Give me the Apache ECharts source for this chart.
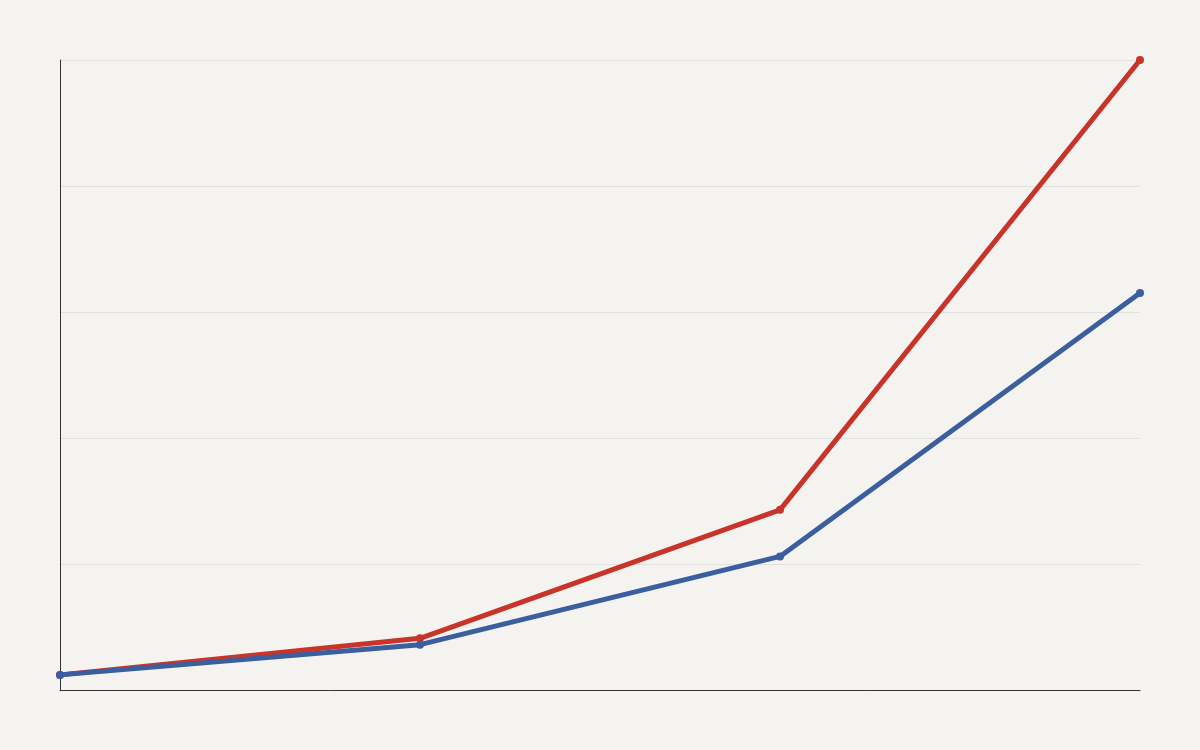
<!DOCTYPE html>
<html><head><meta charset="utf-8">
<script src="https://cdn.jsdelivr.net/npm/echarts@6/dist/echarts.min.js"></script>
<style>html,body{margin:0;padding:0;background:#f4f3f0}#c{width:1200px;height:750px}</style>
</head><body><div id="c"></div>
<script>
const categories = ['A', 'B', 'C', 'D'];
const redValues = [0.12, 0.41, 1.43, 5.0];
const blueValues = [0.12, 0.36, 1.06, 3.15];
const chart = echarts.init(document.getElementById('c'));
chart.setOption({
  backgroundColor: '#f4f3f0',
  animation: false,
  grid: {left: 60, right: 60, top: 60, bottom: 60},
  xAxis: {type: 'category', data: categories, boundaryGap: false,
    axisLine: {lineStyle: {color: '#333', width: 1}}, axisTick: {show: false}, axisLabel: {show: false}},
  yAxis: {type: 'value', min: 0, max: 5, interval: 1,
    axisLine: {show: true, lineStyle: {color: '#333', width: 1}}, axisTick: {show: false}, axisLabel: {show: false},
    splitLine: {lineStyle: {color: '#e2e1dd', width: 1}}},
  series: [
    {type: 'line', data: redValues, lineStyle: {color: '#c8342a', width: 5}, itemStyle: {color: '#c8342a'}, symbol: 'circle', symbolSize: 8},
    {type: 'line', data: blueValues, lineStyle: {color: '#3b5e9e', width: 5}, itemStyle: {color: '#3b5e9e'}, symbol: 'circle', symbolSize: 8}
  ]
});
</script></body></html>
